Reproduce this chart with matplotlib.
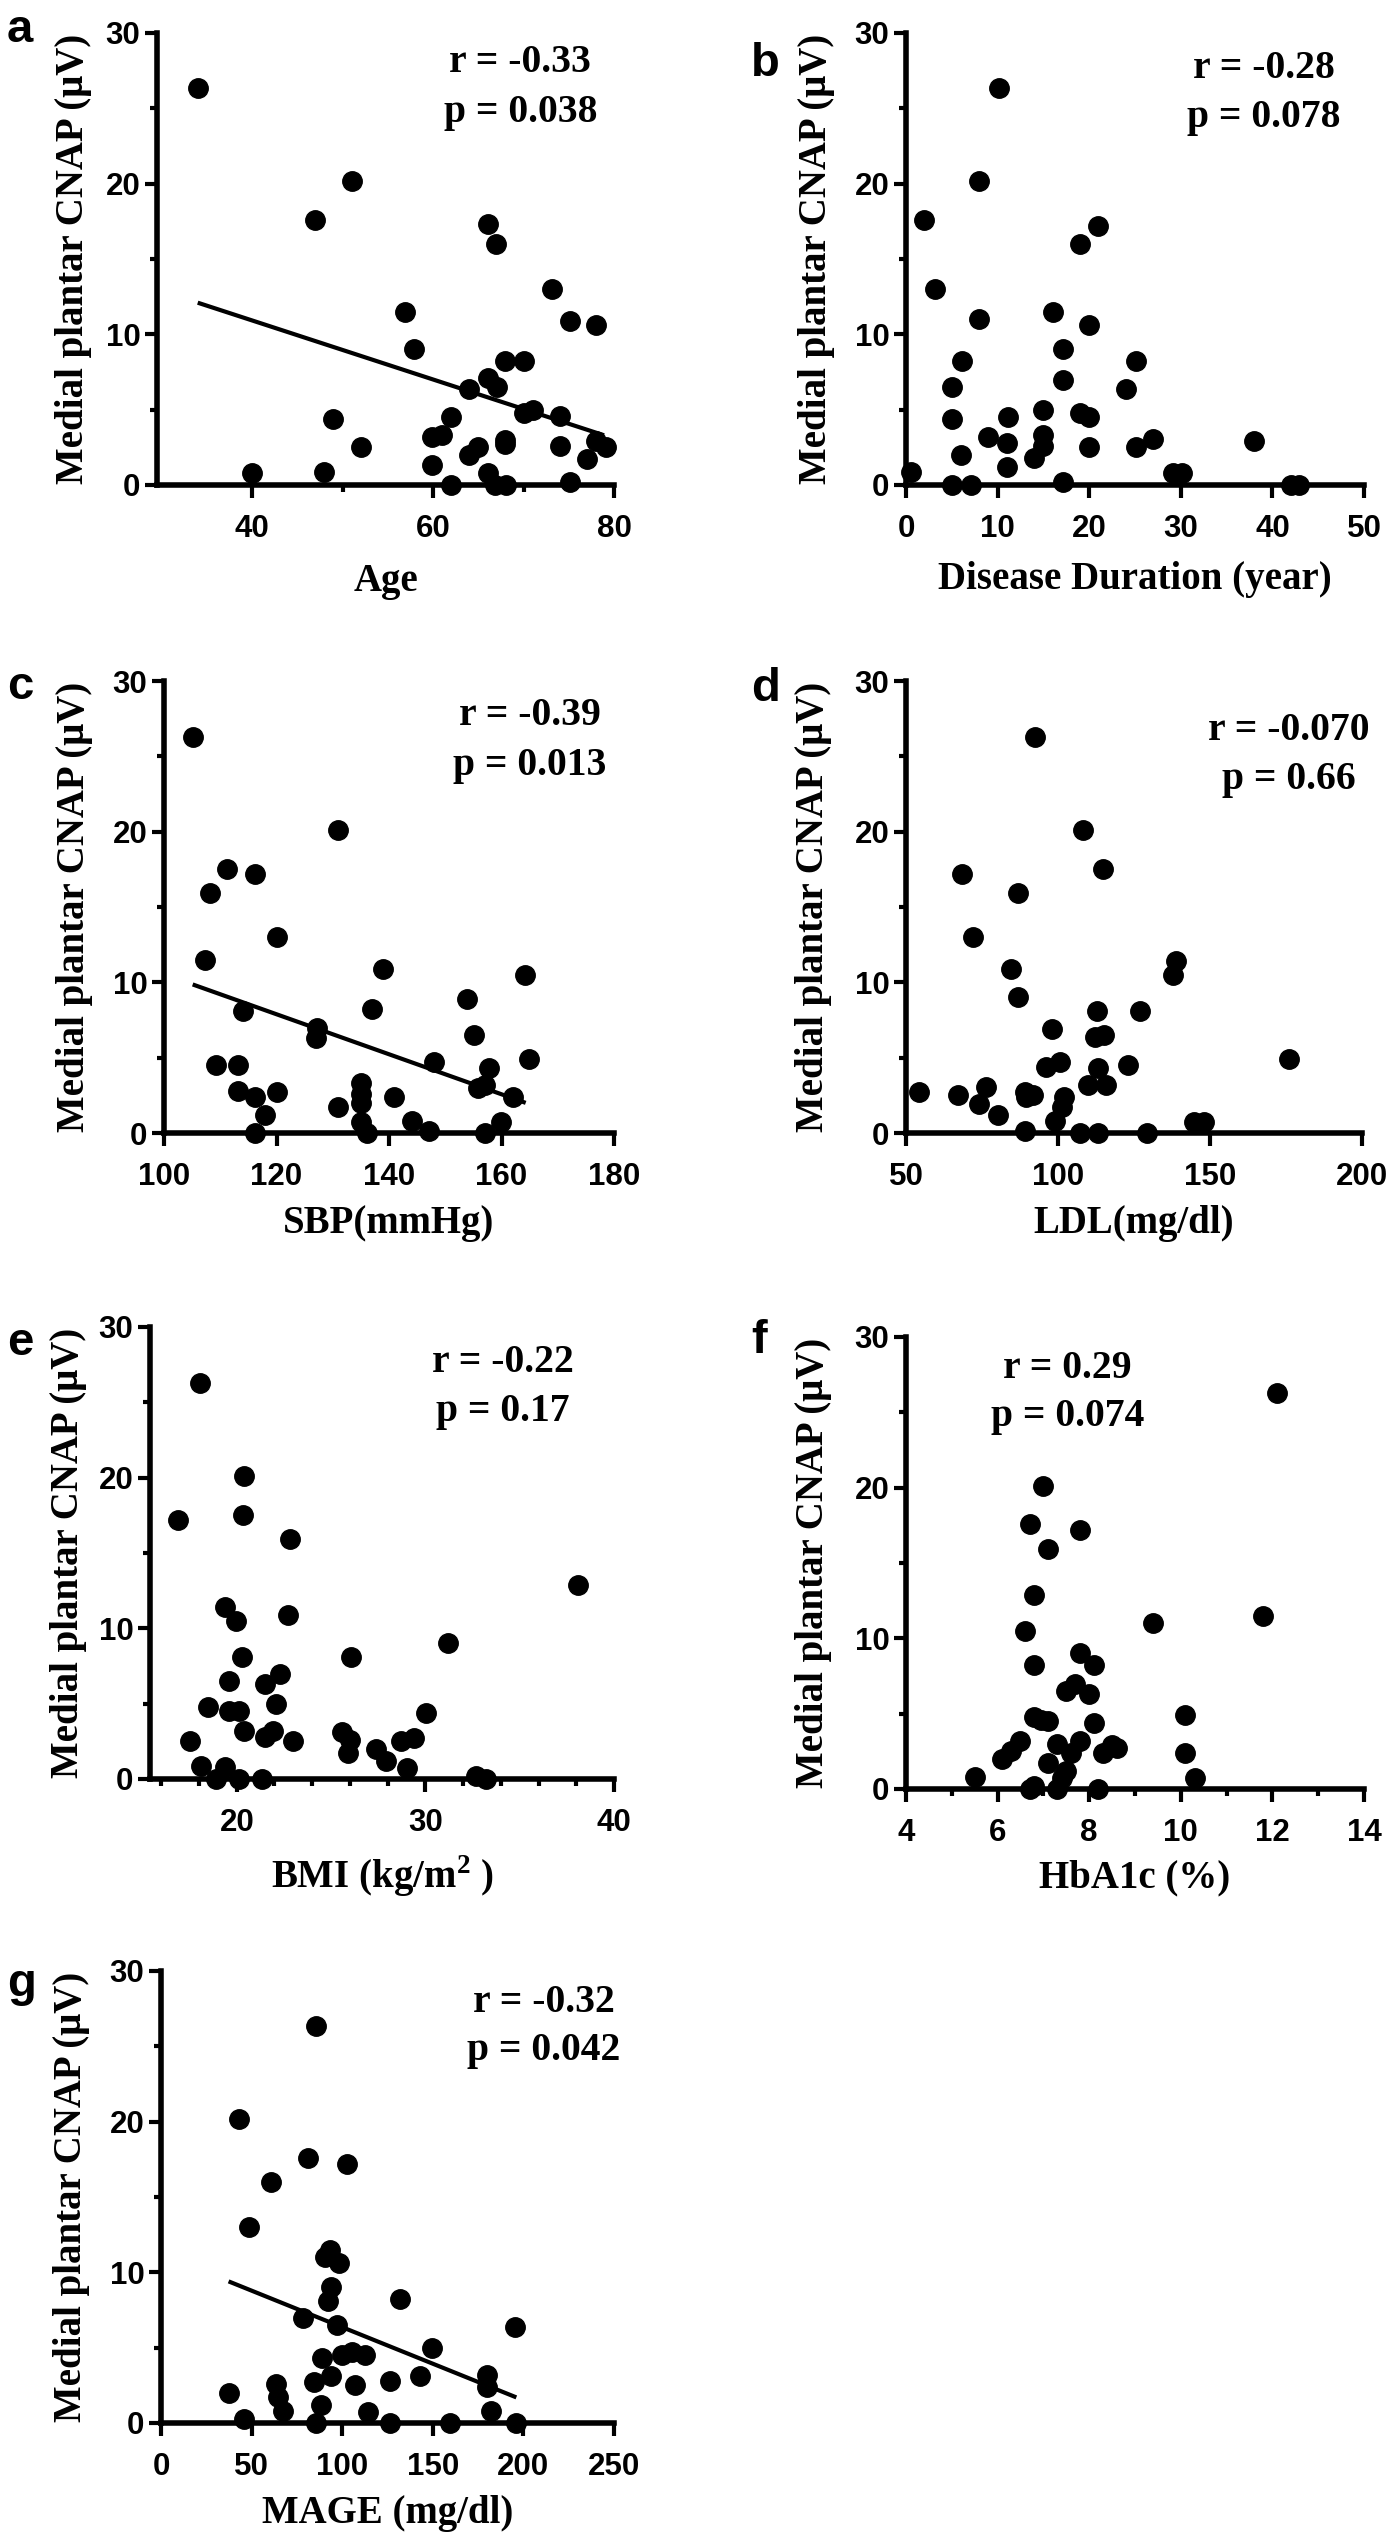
import matplotlib
matplotlib.use("Agg")
import matplotlib.pyplot as plt
from matplotlib.ticker import FixedLocator

plt.rcParams["mathtext.fontset"] = "custom"
plt.rcParams["mathtext.rm"] = "Liberation Serif:bold"
plt.rcParams["mathtext.bf"] = "Liberation Serif:bold"

SERIF = "Liberation Serif"
SANS = "Liberation Sans"
YLABEL = "Medial plantar CNAP (μV)"

# ---- data ----
age = [34.0, 40.0, 47.0, 48.0, 48.9, 51.0, 52.0, 56.9, 57.9, 59.9, 61.0, 59.9, 62.0,
       62.0, 64.0, 64.0, 65.0, 66.1, 66.1, 67.1, 67.0, 66.1, 66.9, 67.9, 67.9, 67.9,
       68.1, 70.1, 70.0, 71.1, 73.1, 74.0, 74.0, 75.1, 75.1, 77.0, 78.0, 78.0, 79.1]
cnap_age = [26.35, 0.8, 17.6, 0.86, 4.4, 20.2, 2.5, 11.5, 9.0, 3.2, 3.3, 1.3, 4.5,
            0, 6.4, 2.0, 2.5, 17.3, 7.1, 6.5, 16.0, 0.8, 0, 8.2, 3.0, 2.75,
            0, 8.2, 4.8, 5.0, 13.0, 4.6, 2.6, 10.9, 0.2, 1.75, 10.6, 2.9, 2.5]
age_fit_x = [34.0, 78.9]
age_fit_y = [12.1, 3.3]

duration = [0.5, 2.0, 3.2, 5.0, 5.0, 5.0, 6.1, 6.0, 7.1, 8.0, 8.0, 9.0, 10.1, 11.1,
            11.0, 11.0, 14.0, 15.0, 15.0, 15.0, 16.0, 17.1, 17.1, 17.1, 19.0, 19.0,
            20.0, 20.0, 20.0, 21.0, 24.0, 25.1, 25.1, 27.0, 29.1, 30.1, 38.0, 42.0, 42.9]
cnap_duration = [0.86, 17.6, 13.0, 6.5, 4.4, 0, 8.2, 2.0, 0, 20.2, 11.0, 3.2, 26.35, 4.5,
                 2.8, 1.2, 1.8, 5.0, 3.3, 2.6, 11.5, 9.0, 7.0, 0.2, 16.0, 4.8,
                 4.5, 10.6, 2.5, 17.2, 6.4, 8.2, 2.5, 3.05, 0.8, 0.8, 2.9, 0, 0]

sbp = [105.1, 107.2, 108.1, 109.3, 111.2, 113.2, 113.2, 114.1, 116.1, 116.1, 116.1,
       118.0, 120.0, 120.0, 127.2, 127.1, 131.0, 131.0, 135.1, 135.1, 135.1, 135.1,
       136.1, 137.0, 139.0, 140.9, 144.1, 147.1, 148.0, 153.9, 155.1, 155.8, 157.1,
       157.1, 157.8, 159.9, 162.0, 164.1, 164.9]
cnap_sbp = [26.3, 11.5, 15.9, 4.5, 17.5, 4.5, 2.8, 8.1, 17.2, 2.4, 0,
            1.2, 13.0, 2.75, 7.0, 6.3, 20.1, 1.7, 3.3, 2.6, 2.0, 0.75,
            0, 8.2, 10.9, 2.4, 0.8, 0.1, 4.7, 8.9, 6.5, 3.0, 3.2,
            0, 4.3, 0.75, 2.4, 10.5, 4.9]
sbp_fit_x = [105.1, 164.3]
sbp_fit_y = [9.86, 2.0]

ldl = [54.4, 67.1, 68.3, 72.2, 74.1, 76.3, 80.3, 84.4, 87.0, 87.0, 89.2, 89.5, 89.2,
       91.7, 92.4, 96.1, 98.0, 99.0, 100.5, 101.2, 102.0, 107.1, 108.1, 110.0, 112.2,
       112.9, 113.2, 113.2, 114.8, 115.1, 115.9, 122.9, 127.1, 129.3, 137.8, 138.8,
       144.6, 148.0, 175.9]
cnap_ldl = [2.7, 2.5, 17.2, 13.0, 1.95, 3.05, 1.2, 10.9, 15.9, 9.0, 2.75, 2.4, 0.1,
            2.5, 26.3, 4.4, 6.9, 0.8, 4.7, 1.7, 2.4, 0, 20.1, 3.2, 6.35,
            8.1, 4.3, 0, 17.5, 6.5, 3.2, 4.5, 8.1, 0, 10.5, 11.4,
            0.75, 0.75, 4.9]

bmi = [16.9, 17.5, 18.05, 18.1, 18.5, 18.9, 19.4, 19.4, 19.6, 19.6, 19.95, 20.1, 20.1,
       20.3, 20.35, 20.4, 20.4, 21.35, 21.5, 21.5, 21.9, 22.1, 22.3, 22.7, 22.8, 23.0,
       25.6, 26.0, 25.9, 26.05, 27.4, 27.9, 28.7, 29.0, 29.4, 30.05, 31.2, 32.7, 33.2, 38.1]
cnap_bmi = [17.2, 2.5, 26.3, 0.86, 4.8, 0, 11.4, 0.8, 6.5, 4.5, 10.5, 4.5, 0,
            8.1, 17.5, 20.1, 3.2, 0, 6.3, 2.8, 3.2, 5.0, 7.0, 10.9, 15.9, 2.5,
            3.1, 2.6, 1.75, 8.1, 2.0, 1.2, 2.5, 0.75, 2.75, 4.4, 9.0, 0.2, 0, 12.9]

hba1c = [5.5, 6.1, 6.3, 6.5, 6.6, 6.7, 6.7, 6.8, 6.8, 6.8, 6.8, 6.95, 7.0, 7.1, 7.1,
         7.1, 7.3, 7.3, 7.4, 7.5, 7.5, 7.6, 7.7, 7.8, 7.8, 7.8, 8.0, 8.1, 8.1, 8.2,
         8.3, 8.5, 8.6, 9.4, 10.1, 10.1, 10.3, 11.8, 12.1]
cnap_hba1c = [0.8, 2.0, 2.5, 3.2, 10.5, 17.6, 0, 12.9, 8.2, 4.8, 0.2, 4.6, 20.1, 15.9, 4.5,
              1.7, 3.0, 0, 0.7, 1.2, 6.5, 2.4, 7.0, 17.2, 9.0, 3.2, 6.3, 8.2, 4.4, 0,
              2.4, 2.9, 2.7, 11.0, 4.9, 2.4, 0.75, 11.5, 26.3]

mage = [37.3, 42.9, 45.8, 48.3, 60.8, 63.7, 64.5, 67.4, 78.4, 80.9, 84.6, 85.8, 85.8,
        88.2, 88.7, 90.7, 91.9, 93.1, 93.9, 93.9, 97.3, 98.5, 100.0, 102.9, 105.4,
        107.1, 112.7, 114.0, 126.2, 126.2, 131.9, 142.9, 149.5, 159.3, 180.1, 180.1,
        182.1, 195.6, 196.1]
cnap_mage = [2.0, 20.2, 0.27, 13.0, 16.0, 2.6, 1.7, 0.8, 7.0, 17.6, 2.75, 26.35, 0,
             1.2, 4.3, 11.0, 8.1, 11.5, 9.0, 3.1, 6.5, 10.6, 4.5, 17.2, 4.7,
             2.5, 4.5, 0.7, 2.8, 0, 8.2, 3.1, 5.0, 0, 3.2, 2.4,
             0.8, 6.4, 0]
mage_fit_x = [37.3, 196.1]
mage_fit_y = [9.4, 1.7]

r_labels = ["r = -0.33", "r = -0.28", "r = -0.39", "r = -0.070", "r = -0.22", "r = 0.29", "r = -0.32"]
p_labels = ["p = 0.038", "p = 0.078", "p = 0.013", "p = 0.66", "p = 0.17", "p = 0.074", "p = 0.042"]

# ---- figure ----
W, H = 1395, 2539
fig = plt.figure(figsize=(W / 100, H / 100), dpi=100)


def add_ax(x0, top, w, h=452):
    return fig.add_axes([x0 / W, 1 - (top + h) / H, w / W, h / H])


panels = [
    dict(letter="a", box=(157, 33, 457), let_xy=(7, 42), x=age, y=cnap_age,
         xlim=(29.5, 80), major=[40, 60, 80], minor=[50, 70], xlabel="Age",
         fit=(age_fit_x, age_fit_y), txt=(0.795, 0.914, 0.802), ylab_dx=65, xlab_dy=106),
    dict(letter="b", box=(906, 33, 458), let_xy=(751, 76), x=duration, y=cnap_duration,
         xlim=(0, 50), major=[0, 10, 20, 30, 40, 50], minor=[], xlabel="Disease Duration (year)",
         fit=None, txt=(0.782, 0.901, 0.791), ylab_dx=71, xlab_dy=104),
    dict(letter="c", box=(164, 681, 450), let_xy=(7, 699), x=sbp, y=cnap_sbp,
         xlim=(100, 180), major=[100, 120, 140, 160, 180], minor=[], xlabel="SBP(mmHg)",
         fit=(sbp_fit_x, sbp_fit_y), txt=(0.813, 0.903, 0.793), ylab_dx=71, xlab_dy=100),
    dict(letter="d", box=(906, 681, 456), let_xy=(751, 701), x=ldl, y=cnap_ldl,
         xlim=(50, 200), major=[50, 100, 150, 200], minor=[], xlabel="LDL(mg/dl)",
         fit=None, txt=(0.839, 0.869, 0.761), ylab_dx=74, xlab_dy=100),
    dict(letter="e", box=(150, 1327, 464), let_xy=(7, 1355), x=bmi, y=cnap_bmi,
         xlim=(15.4, 40), major=[20, 30, 40], minor=[16, 18, 22, 24, 26, 28, 32, 34, 36, 38],
         xlabel=r"BMI (kg/m$^{\mathbf{2}}$ )",
         fit=None, txt=(0.760, 0.901, 0.793), ylab_dx=63, xlab_dy=109),
    dict(letter="f", box=(906, 1337, 458), let_xy=(751, 1353), x=hba1c, y=cnap_hba1c,
         xlim=(4, 14), major=[4, 6, 8, 10, 12, 14], minor=[5, 7, 9, 11, 13], xlabel="HbA1c (%)",
         fit=None, txt=(0.353, 0.910, 0.802), ylab_dx=74, xlab_dy=98),
    dict(letter="g", box=(161, 1971, 453), let_xy=(7, 1996), x=mage, y=cnap_mage,
         xlim=(0, 250), major=[0, 50, 100, 150, 200, 250], minor=[], xlabel="MAGE (mg/dl)",
         fit=(mage_fit_x, mage_fit_y), txt=(0.845, 0.910, 0.802), ylab_dx=71, xlab_dy=100),
]

for i, p in enumerate(panels):
    x0, top, w = p["box"]
    ax = add_ax(x0, top, w)
    ax.plot(p["x"], p["y"], "o", ms=14, color="black", mec="black", clip_on=False, zorder=4)
    if p["fit"] is not None:
        ax.plot(p["fit"][0], p["fit"][1], "-", color="black", lw=3, solid_capstyle="butt", zorder=3)

    ax.set_xlim(*p["xlim"])
    ax.set_ylim(0, 30)
    ax.xaxis.set_major_locator(FixedLocator(p["major"]))
    ax.xaxis.set_minor_locator(FixedLocator(p["minor"]))
    ax.yaxis.set_major_locator(FixedLocator([0, 10, 20, 30]))
    ax.yaxis.set_minor_locator(FixedLocator([5, 15, 25]))

    for side in ("top", "right"):
        ax.spines[side].set_visible(False)
    for side in ("left", "bottom"):
        ax.spines[side].set_linewidth(4)
        ax.spines[side].set_capstyle("projecting")

    ax.tick_params(which="major", direction="out", length=9, width=3, color="black")
    ax.tick_params(which="minor", direction="out", length=5, width=3, color="black")
    ax.tick_params(axis="x", which="major", pad=12)
    ax.tick_params(axis="y", which="major", pad=3)
    for lab in ax.get_xticklabels() + ax.get_yticklabels():
        lab.set_fontfamily(SANS)
        lab.set_fontweight("bold")
        lab.set_fontsize(22.5)

    ax.set_xlabel(p["xlabel"], fontfamily=SERIF, fontweight="bold", fontsize=28)
    ax.xaxis.label.set_va("baseline")
    ax.xaxis.set_label_coords(0.5, -p["xlab_dy"] / 452)
    ax.set_ylabel(YLABEL, fontfamily=SERIF, fontweight="bold", fontsize=28)
    ax.yaxis.set_label_coords(-p["ylab_dx"] / w, 0.5)

    tx, ry, py = p["txt"]
    ax.text(tx, ry, r_labels[i], transform=ax.transAxes, ha="center", va="baseline",
            fontfamily=SERIF, fontweight="bold", fontsize=28.5)
    ax.text(tx, py, p_labels[i], transform=ax.transAxes, ha="center", va="baseline",
            fontfamily=SERIF, fontweight="bold", fontsize=28.5)

    lx, ly = p["let_xy"]
    fig.text(lx / W, 1 - ly / H, p["letter"], ha="left", va="baseline",
             fontfamily=SANS, fontweight="bold", fontsize=34)

fig.savefig("out.png", dpi=100, facecolor="white")
